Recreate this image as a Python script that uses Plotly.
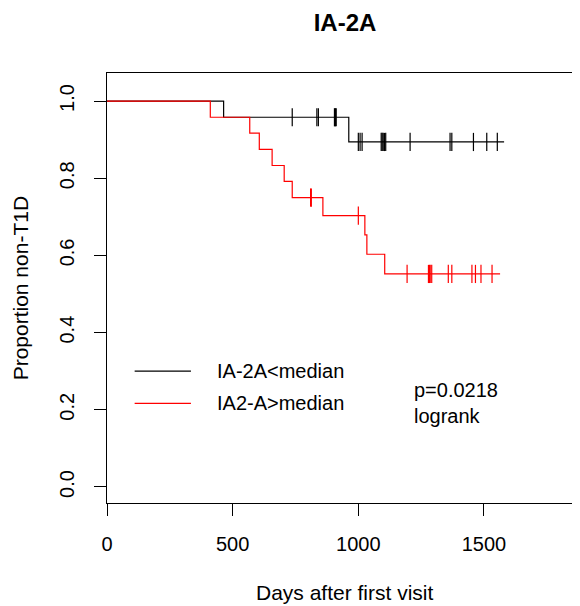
import numpy as np
import plotly.graph_objects as go

# ---- data ----
low_event_days = [0, 464, 962]
low_surv = [1.0, 0.958, 0.894]
low_end_day = 1580
low_censor_days = [737, 835, 841, 905, 909, 912, 1000, 1007, 1015,
                   1091, 1095, 1099, 1104, 1109, 1206, 1365, 1372,
                   1458, 1511, 1553]

high_event_days = [0, 411, 568, 606, 657, 705, 737, 859, 1026, 1034, 1105]
high_surv = [1.0, 0.958, 0.917, 0.875, 0.833, 0.792, 0.750, 0.703,
             0.653, 0.603, 0.552]
high_end_day = 1564
high_censor_days = [810, 813, 1000, 1194, 1279, 1283, 1286, 1292,
                    1358, 1372, 1452, 1466, 1488, 1532]

series_names = ["IA-2A<median", "IA2-A>median"]
series_colors = ["black", "red"]
x_ticks = [0, 500, 1000, 1500]
y_ticks = [0.0, 0.2, 0.4, 0.6, 0.8, 1.0]
p_text = "p=0.0218<br>logrank"


def step_value(days, surv, t):
    idx = np.searchsorted(np.asarray(days), np.asarray(t), side="right") - 1
    return np.asarray(surv)[idx]


# page has an 8px body margin, so the figure is drawn 8px smaller / shifted
W, H = 572, 598
L, T = 98.7, 65.3
PW, PH = W - L, 429.4
B = H - T - PH

fig = go.Figure()
groups = [
    (low_event_days, low_surv, low_end_day, low_censor_days),
    (high_event_days, high_surv, high_end_day, high_censor_days),
]
for (days, surv, end_day, cens), name, col in zip(groups, series_names, series_colors):
    xs = list(days) + [end_day]
    ys = list(surv) + [surv[-1]]
    fig.add_trace(go.Scatter(x=xs, y=ys, mode="lines", line=dict(color=col, width=1.2, shape="hv"),
                             name=name, showlegend=False, hoverinfo="skip"))
    fig.add_trace(go.Scatter(x=cens, y=step_value(days, surv, cens), mode="markers",
                             marker=dict(symbol="line-ns", size=13,
                                         line=dict(color=col, width=1.2)),
                             showlegend=False, hoverinfo="skip"))

FONT = "Liberation Sans, Arial, sans-serif"

# legend drawn manually (R style)
leg_y = [0.300, 0.2164]
for yy, name, col in zip(leg_y, series_names, series_colors):
    fig.add_shape(type="line", xref="x", yref="y", x0=110, x1=334, y0=yy, y1=yy,
                  line=dict(color=col, width=1.2))
    fig.add_annotation(xref="x", yref="y", x=431, y=yy, text=name, showarrow=False,
                       xanchor="left", yanchor="middle", font=dict(size=20, color="black", family=FONT))

fig.add_annotation(xref="x", yref="y", x=1214, y=0.217, text=p_text, showarrow=False,
                   xanchor="left", yanchor="middle", align="left",
                   font=dict(size=20, color="black", family=FONT))

# axis titles
fig.add_annotation(xref="paper", yref="paper", x=(345 - 106.7) / PW, y=-(592 - 502.7) / PH,
                   text="Days after first visit", showarrow=False, xanchor="center", yanchor="middle",
                   font=dict(size=21, color="black", family=FONT))
fig.add_annotation(xref="paper", yref="paper", x=-(106.7 - 20) / PW, y=0.5,
                   text="Proportion non-T1D", showarrow=False, textangle=-90,
                   xanchor="center", yanchor="middle",
                   font=dict(size=21, color="black", family=FONT))

fig.update_layout(
    width=W, height=H,
    margin=dict(l=L, r=0, t=T, b=B),
    paper_bgcolor="white", plot_bgcolor="white",
    font=dict(family=FONT, size=20, color="black"),
    title=dict(text="<b>IA-2A</b>", x=(345 - 8) / W, xref="container", xanchor="center",
               y=1 - (22.5 - 8) / H, yref="container", yanchor="middle",
               font=dict(size=24, color="black", family=FONT)),
    showlegend=False,
)
fig.update_xaxes(range=[0, 1882], tickvals=x_ticks, ticktext=[str(v) for v in x_ticks],
                 showgrid=False, zeroline=False, showline=True, linecolor="black", linewidth=1,
                 mirror=True, ticks="outside", ticklen=12, tickcolor="black", tickwidth=1,
                 ticklabelstandoff=11, tickfont=dict(size=20, color="black", family=FONT))
fig.update_yaxes(range=[-0.0415, 1.0727], tickvals=y_ticks, ticktext=[f"{v:.1f}" for v in y_ticks],
                 showgrid=False, zeroline=False, showline=True, linecolor="black", linewidth=1,
                 ticks="outside", ticklen=12, tickcolor="black", tickwidth=1, tickangle=-90,
                 ticklabelstandoff=12, tickfont=dict(size=20, color="black", family=FONT))

fig.write_html("out.html")
